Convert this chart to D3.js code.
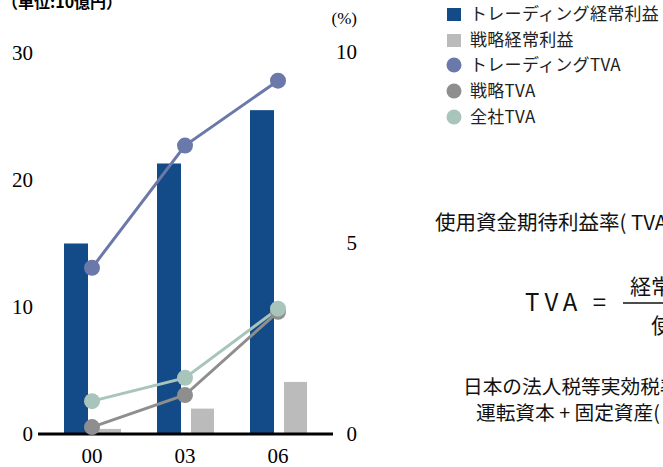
<!DOCTYPE html>
<html><head><meta charset="utf-8">
<script src="https://cdn.jsdelivr.net/npm/d3@7"></script>
<style>html,body{margin:0;padding:0;background:#fff;overflow:hidden}</style>
</head><body>
<svg id="c" width="663" height="467"></svg>
<script>
const categories = ["00", "03", "06"];
const tradingProfit = [15.0, 21.3, 25.5];
const strategyProfit = [0.4, 2.0, 4.1];
const tradingTVA = [4.35, 7.55, 9.25];
const strategyTVA = [0.18, 1.02, 3.2];
const companyTVA = [0.86, 1.47, 3.28];
const leftTicks = [0, 10, 20, 30];
const rightTicks = [0, 5, 10];
const legendLabels = ["トレーディング経常利益", "戦略経常利益", "トレーディングTVA", "戦略TVA", "全社TVA"];

const colors = {trading: "#134b88", strategy: "#bbbbbb", tTVA: "#6a78aa", sTVA: "#8e8e8e", cTVA: "#a8c5bc"};
const serif = "'Liberation Serif','DejaVu Serif',serif";
const sans = "'Noto Sans CJK JP','Noto Sans',sans-serif";

const svg = d3.select("#c");
const x = d3.scalePoint().domain(categories).range([92, 278]);
const yL = d3.scaleLinear().domain([0, 30]).range([434, 53]);
const yR = d3.scaleLinear().domain([0, 10]).range([434, 52]);

// unit label (cut at top as in the original)
svg.append("text").attr("x", 2).attr("y", 8).attr("font-family", sans).attr("font-weight", "bold")
  .attr("font-size", 16).text("（単位:10億円）");
svg.append("text").attr("x", 357).attr("y", 24).attr("text-anchor", "end").attr("font-family", serif)
  .attr("font-size", 17).text("(%)");

// bars
svg.selectAll("rect.t").data(tradingProfit).join("rect").attr("class", "t")
  .attr("x", (d, i) => x(categories[i]) - 28).attr("width", 24)
  .attr("y", d => yL(d)).attr("height", d => yL(0) - yL(d)).attr("fill", colors.trading);
svg.selectAll("rect.s").data(strategyProfit).join("rect").attr("class", "s")
  .attr("x", (d, i) => x(categories[i]) + 6).attr("width", 23)
  .attr("y", d => yL(d)).attr("height", d => yL(0) - yL(d)).attr("fill", colors.strategy);

// axis line
svg.append("line").attr("x1", 38).attr("x2", 333).attr("y1", yL(0)).attr("y2", yL(0))
  .attr("stroke", "#000").attr("stroke-width", 3);

// tick labels
svg.selectAll("text.yl").data(leftTicks).join("text").attr("class", "yl")
  .attr("x", 33).attr("y", d => yL(d) + 7).attr("text-anchor", "end")
  .attr("font-family", serif).attr("font-size", 21).text(d => d);
svg.selectAll("text.yr").data(rightTicks).join("text").attr("class", "yr")
  .attr("x", 357).attr("y", d => yR(d) + 7).attr("text-anchor", "end")
  .attr("font-family", serif).attr("font-size", 21).text(d => d);
svg.selectAll("text.xl").data(categories).join("text").attr("class", "xl")
  .attr("x", d => x(d)).attr("y", 463).attr("text-anchor", "middle")
  .attr("font-family", serif).attr("font-size", 21).text(d => d);

// lines
const series = [[strategyTVA, colors.sTVA], [companyTVA, colors.cTVA], [tradingTVA, colors.tTVA]];
const line = d3.line().x((d, i) => x(categories[i])).y(d => yR(d));
series.forEach(([vals, col]) => {
  svg.append("path").attr("d", line(vals)).attr("fill", "none").attr("stroke", col).attr("stroke-width", 3);
});
series.forEach(([vals, col]) => {
  svg.append("g").selectAll("circle").data(vals).join("circle")
    .attr("cx", (d, i) => x(categories[i])).attr("cy", d => yR(d)).attr("r", 8).attr("fill", col);
});

// legend
const lg = svg.append("g");
const rowY = [14, 40, 65, 91, 117];
legendLabels.forEach((lab, i) => {
  if (i < 2) {
    lg.append("rect").attr("x", 447).attr("y", rowY[i] - 6).attr("width", 14).attr("height", 13)
      .attr("fill", i === 0 ? colors.trading : colors.strategy);
  } else {
    lg.append("circle").attr("cx", 454).attr("cy", rowY[i]).attr("r", 7.5)
      .attr("fill", [colors.tTVA, colors.sTVA, colors.cTVA][i - 2]);
  }
  lg.append("text").attr("x", 470).attr("y", rowY[i] + 6).attr("font-family", sans)
    .attr("font-size", 17).attr("letter-spacing", 0.3).attr("fill", "#222").text(lab);
});

// formula notes (cut at right edge)
svg.append("text").attr("x", 435).attr("y", 230).attr("font-family", sans).attr("font-size", 20.5)
  .attr("fill", "#111").text("使用資金期待利益率( TVA");
svg.append("text").attr("x", 525).attr("y", 311).attr("font-family", sans).attr("font-size", 24)
  .attr("letter-spacing", 5).attr("fill", "#111").text("TVA =");
svg.append("line").attr("x1", 623).attr("x2", 663).attr("y1", 303).attr("y2", 303)
  .attr("stroke", "#111").attr("stroke-width", 1.5);
svg.append("text").attr("x", 630).attr("y", 294).attr("font-family", sans).attr("font-size", 21)
  .attr("fill", "#111").text("経常");
svg.append("text").attr("x", 651).attr("y", 333).attr("font-family", sans).attr("font-size", 21)
  .attr("fill", "#111").text("使用");
svg.append("text").attr("x", 463).attr("y", 394).attr("font-family", sans).attr("font-size", 19.7)
  .attr("fill", "#111").text("日本の法人税等実効税率");
svg.append("text").attr("x", 476).attr("y", 420).attr("font-family", sans).attr("font-size", 19.7)
  .attr("fill", "#111").text("運転資本 + 固定資産(");
</script>
</body></html>
